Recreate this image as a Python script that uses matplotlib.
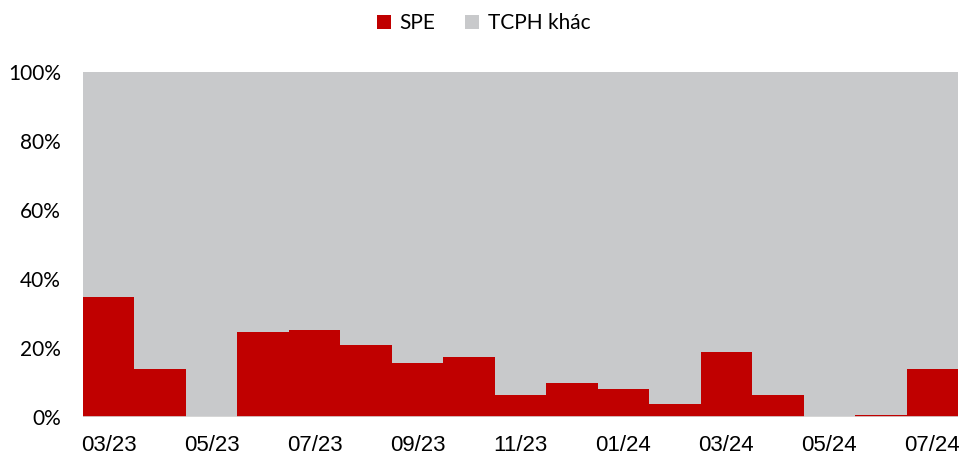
import matplotlib
matplotlib.use("Agg")
import matplotlib.pyplot as plt
import numpy as np

months = ["03/23", "04/23", "05/23", "06/23", "07/23", "08/23", "09/23", "10/23",
          "11/23", "12/23", "01/24", "02/24", "03/24", "04/24", "05/24", "06/24", "07/24"]
spe = [34.9, 14.0, 0.0, 24.7, 25.2, 20.9, 15.7, 17.4,
       6.4, 9.9, 8.0, 3.8, 18.9, 6.5, 0.0, 0.5, 13.9]
others = [100 - v for v in spe]

RED = "#C00000"
GREY = "#C8C9CB"

fig = plt.figure(figsize=(9.61, 4.59), dpi=100)
ax = fig.add_axes([83 / 961, 42 / 459, 875 / 961, 345 / 459])

x = np.arange(len(months))
ax.bar(x, spe, width=1.0, align="edge", color=RED, linewidth=0, label="SPE")
ax.bar(x, others, width=1.0, align="edge", bottom=spe, color=GREY, linewidth=0,
       label="TCPH khác")
ax.axhline(0, color="#D9D9D9", lw=1.2, zorder=3)

ax.set_xlim(0, len(months))
ax.set_ylim(0, 100)
ax.set_xticks(x[::2] + 0.5)
ax.set_xticklabels(months[::2], fontsize=16, family="Liberation Sans")
ax.set_yticks(np.arange(0, 101, 20))
ax.set_yticklabels([f"{v}%" for v in range(0, 101, 20)], fontsize=15, family="Lato")
ax.tick_params(length=0)
ax.tick_params(axis="y", pad=16)
ax.tick_params(axis="x", pad=13)
for s in ax.spines.values():
    s.set_visible(False)

leg = fig.legend(loc="upper center", bbox_to_anchor=(0.503, 1.012), ncol=2, frameon=False,
                 prop={"family": "Lato", "size": 15}, handlelength=0.7, handleheight=0.7,
                 handletextpad=0.4, columnspacing=1.4)

fig.savefig("out.png", dpi=100)
